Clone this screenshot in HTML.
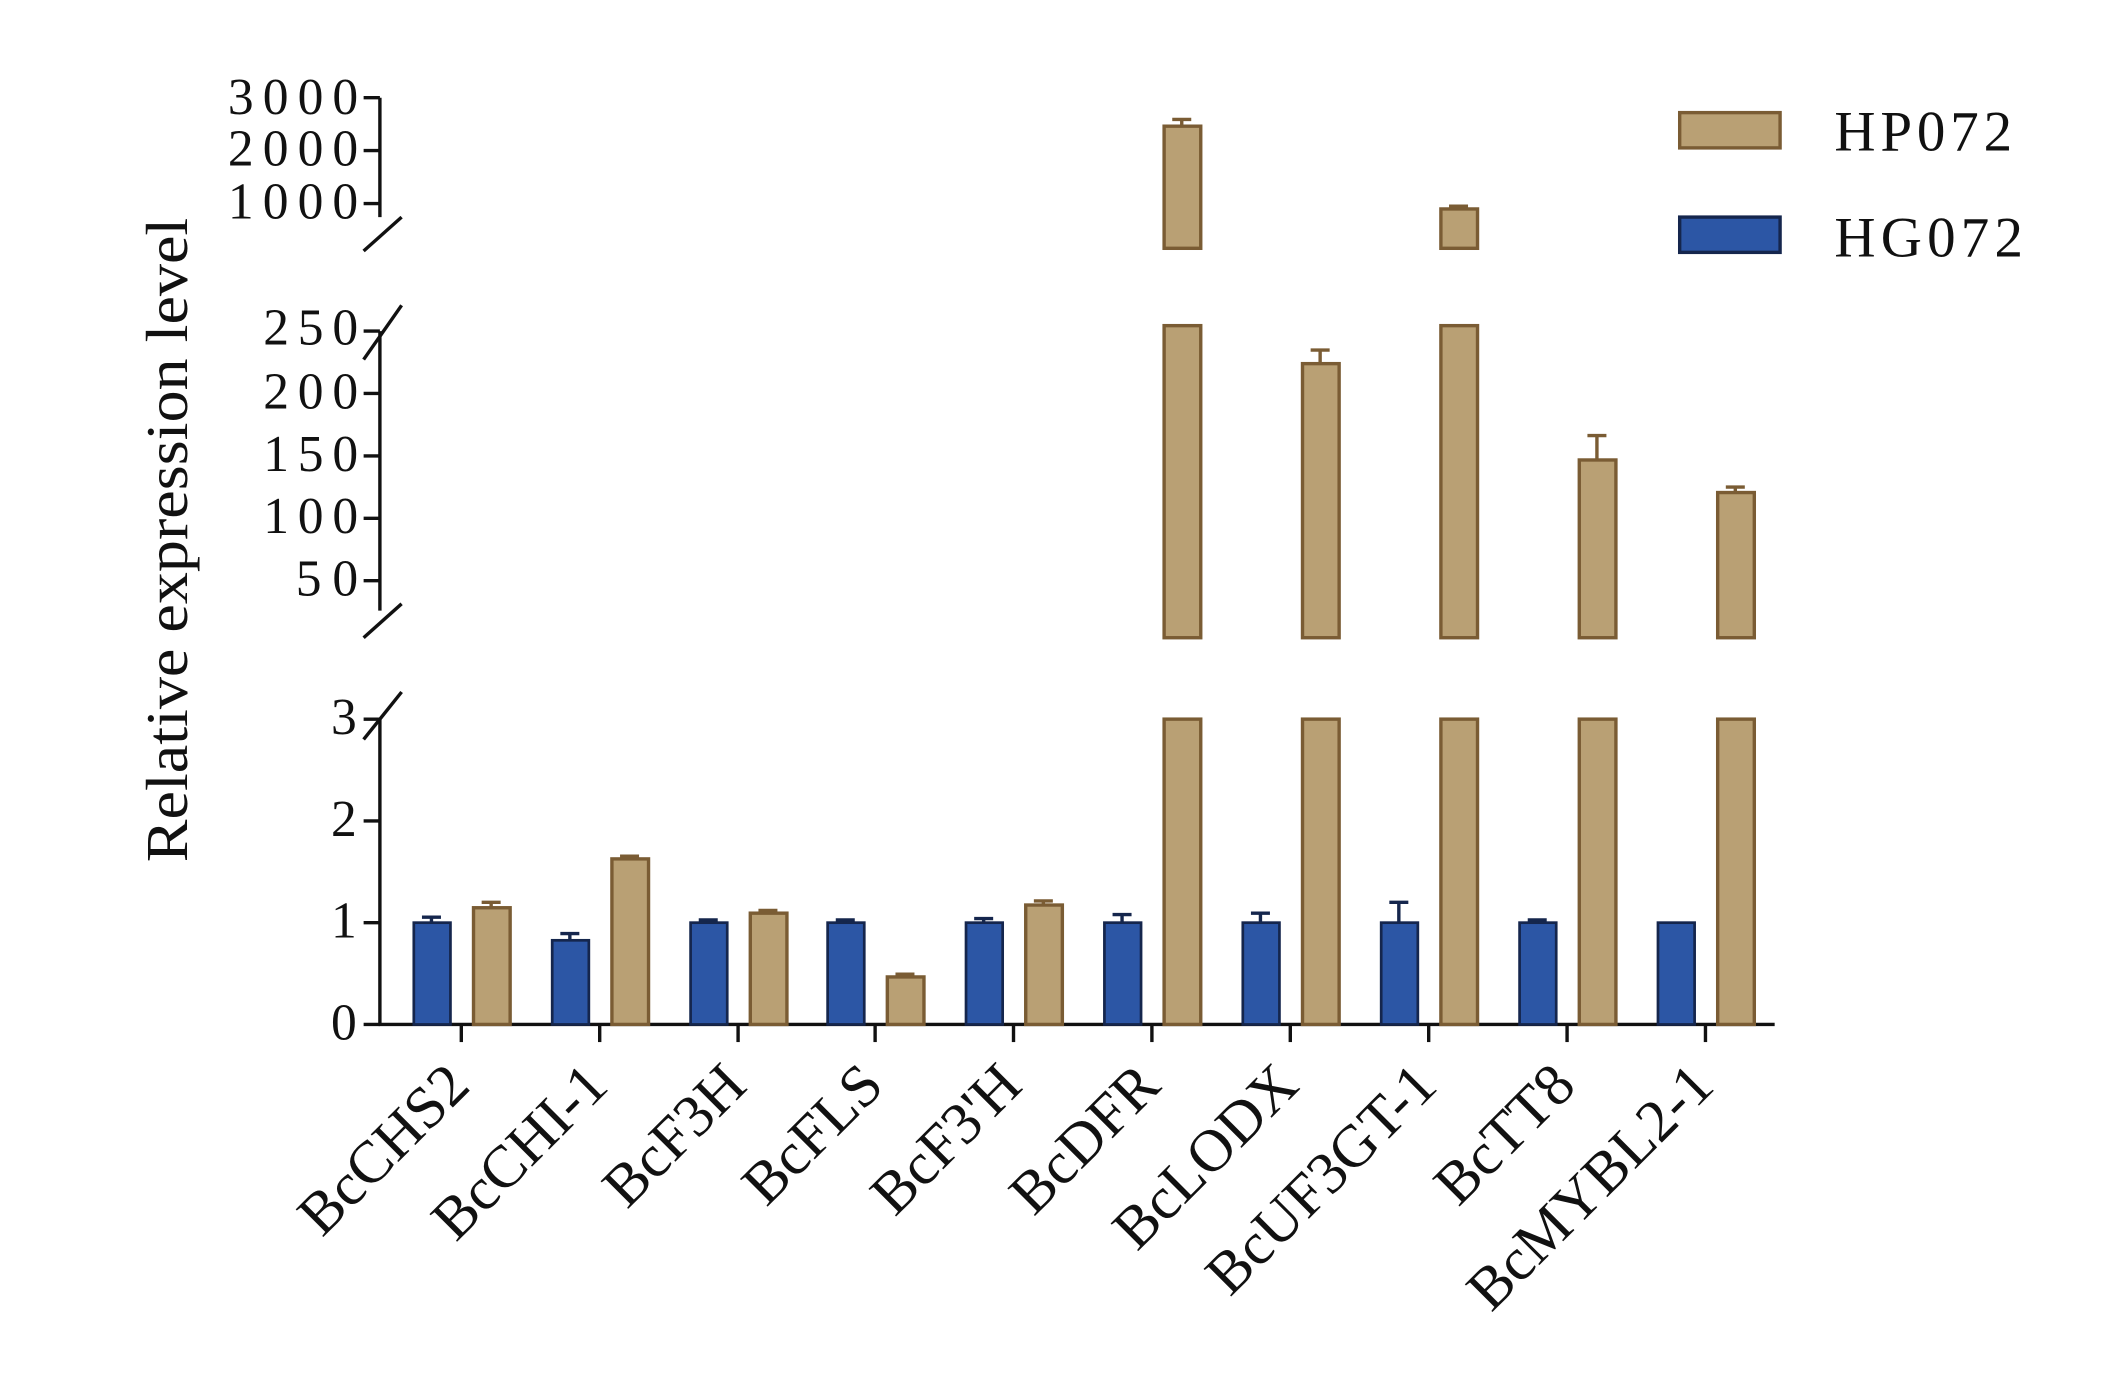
<!DOCTYPE html>
<html><head><style>html,body{margin:0;padding:0;background:#fff}svg{display:block}</style></head><body>
<svg width="2103" height="1384" viewBox="0 0 1550 1020" preserveAspectRatio="none" xmlns="http://www.w3.org/2000/svg" font-family="Liberation Serif, serif">
<g stroke="#111" stroke-width="2.5" fill="none">
<line x1="280" y1="72" x2="280" y2="160"/>
<line x1="280" y1="244" x2="280" y2="450"/>
<line x1="280" y1="530" x2="280" y2="756"/>
<line x1="268" y1="185" x2="296" y2="160"/>
<line x1="268" y1="265" x2="296" y2="225"/>
<line x1="268" y1="470" x2="296" y2="445"/>
<line x1="268" y1="545" x2="296" y2="510"/>
<line x1="279" y1="755" x2="1308" y2="755"/>
<g>
<line x1="268" y1="72" x2="280" y2="72"/><line x1="268" y1="111" x2="280" y2="111"/><line x1="268" y1="150" x2="280" y2="150"/>
<line x1="268" y1="244" x2="280" y2="244"/><line x1="268" y1="290" x2="280" y2="290"/><line x1="268" y1="336" x2="280" y2="336"/><line x1="268" y1="382" x2="280" y2="382"/><line x1="268" y1="428" x2="280" y2="428"/>
<line x1="268" y1="530" x2="280" y2="530"/><line x1="268" y1="605" x2="280" y2="605"/><line x1="268" y1="680" x2="280" y2="680"/><line x1="268" y1="755" x2="280" y2="755"/>
</g>
<g>
<line x1="340" y1="755" x2="340" y2="768"/><line x1="442" y1="755" x2="442" y2="768"/><line x1="544" y1="755" x2="544" y2="768"/><line x1="645" y1="755" x2="645" y2="768"/><line x1="747" y1="755" x2="747" y2="768"/><line x1="849" y1="755" x2="849" y2="768"/><line x1="951" y1="755" x2="951" y2="768"/><line x1="1053" y1="755" x2="1053" y2="768"/><line x1="1155" y1="755" x2="1155" y2="768"/><line x1="1257" y1="755" x2="1257" y2="768"/>
</g>
</g>
<g font-size="38" fill="#111" lengthAdjust="spacingAndGlyphs">
<text x="168" y="84" textLength="96">3000</text><text x="168" y="122" textLength="96">2000</text><text x="168" y="161" textLength="96">1000</text>
<text x="194" y="254" textLength="70">250</text><text x="194" y="301" textLength="70">200</text><text x="194" y="347" textLength="70">150</text><text x="194" y="393" textLength="70">100</text><text x="218" y="439" textLength="46">50</text>
<text x="244" y="541">3</text><text x="244" y="616">2</text><text x="244" y="691">1</text><text x="244" y="766">0</text>
</g>
<text transform="translate(138,398) rotate(-90)" font-size="44" text-anchor="middle" fill="#111" textLength="475" lengthAdjust="spacingAndGlyphs">Relative expression level</text>
<g fill="#2c56a5" stroke="#15264d" stroke-width="2">
<rect x="305" y="680" width="27" height="75"/><rect x="407" y="693" width="27" height="62"/><rect x="509" y="680" width="27" height="75"/><rect x="610" y="680" width="27" height="75"/><rect x="712" y="680" width="27" height="75"/><rect x="814" y="680" width="27" height="75"/><rect x="916" y="680" width="27" height="75"/><rect x="1018" y="680" width="27" height="75"/><rect x="1120" y="680" width="27" height="75"/><rect x="1222" y="680" width="27" height="75"/>
</g>
<g stroke="#15264d" stroke-width="2.5">
<line x1="318" y1="680" x2="318" y2="676"/><line x1="311" y1="676" x2="325" y2="676"/>
<line x1="420" y1="693" x2="420" y2="688"/><line x1="413" y1="688" x2="427" y2="688"/>
<line x1="522" y1="680" x2="522" y2="678"/><line x1="515" y1="678" x2="529" y2="678"/>
<line x1="623" y1="680" x2="623" y2="678"/><line x1="616" y1="678" x2="630" y2="678"/>
<line x1="725" y1="680" x2="725" y2="677"/><line x1="718" y1="677" x2="732" y2="677"/>
<line x1="827" y1="680" x2="827" y2="674"/><line x1="820" y1="674" x2="834" y2="674"/>
<line x1="929" y1="680" x2="929" y2="673"/><line x1="922" y1="673" x2="936" y2="673"/>
<line x1="1031" y1="680" x2="1031" y2="665"/><line x1="1024" y1="665" x2="1038" y2="665"/>
<line x1="1133" y1="680" x2="1133" y2="678"/><line x1="1126" y1="678" x2="1140" y2="678"/>
</g>
<g fill="#b9a074" stroke="#7a5c34" stroke-width="2.5">
<rect x="349" y="669" width="27" height="86"/><rect x="451" y="633" width="27" height="122"/><rect x="553" y="673" width="27" height="82"/><rect x="654" y="720" width="27" height="35"/><rect x="756" y="667" width="27" height="88"/>
<rect x="858" y="530" width="27" height="225"/><rect x="960" y="530" width="27" height="225"/><rect x="1062" y="530" width="27" height="225"/><rect x="1164" y="530" width="27" height="225"/><rect x="1266" y="530" width="27" height="225"/>
<rect x="858" y="240" width="27" height="230"/><rect x="960" y="268" width="27" height="202"/><rect x="1062" y="240" width="27" height="230"/><rect x="1164" y="339" width="27" height="131"/><rect x="1266" y="363" width="27" height="107"/>
<rect x="858" y="93" width="27" height="90"/><rect x="1062" y="154" width="27" height="29"/>
</g>
<g stroke="#7a5c34" stroke-width="2.5">
<line x1="362" y1="669" x2="362" y2="665"/><line x1="355" y1="665" x2="369" y2="665"/>
<line x1="464" y1="633" x2="464" y2="631"/><line x1="457" y1="631" x2="471" y2="631"/>
<line x1="566" y1="673" x2="566" y2="671"/><line x1="559" y1="671" x2="573" y2="671"/>
<line x1="667" y1="720" x2="667" y2="718"/><line x1="660" y1="718" x2="674" y2="718"/>
<line x1="769" y1="667" x2="769" y2="664"/><line x1="762" y1="664" x2="776" y2="664"/>
<line x1="871" y1="93" x2="871" y2="88"/><line x1="864" y1="88" x2="878" y2="88"/>
<line x1="973" y1="268" x2="973" y2="258"/><line x1="966" y1="258" x2="980" y2="258"/>
<line x1="1075" y1="154" x2="1075" y2="152"/><line x1="1068" y1="152" x2="1082" y2="152"/>
<line x1="1177" y1="339" x2="1177" y2="321"/><line x1="1170" y1="321" x2="1184" y2="321"/>
<line x1="1279" y1="363" x2="1279" y2="359"/><line x1="1272" y1="359" x2="1286" y2="359"/>
</g>
<rect x="1238" y="83" width="74" height="26" fill="#b9a074" stroke="#7a5c34" stroke-width="2.5"/>
<rect x="1238" y="160" width="74" height="26" fill="#2c56a5" stroke="#15264d" stroke-width="2.5"/>
<g font-size="42" fill="#111" lengthAdjust="spacingAndGlyphs"><text x="1352" y="111" textLength="131">HP072</text><text x="1352" y="189" textLength="139">HG072</text></g>
<g font-size="44" text-anchor="end" fill="#111">
<text transform="translate(348,802) rotate(-45)">BcCHS2</text>
<text transform="translate(450,802) rotate(-45)">BcCHI-1</text>
<text transform="translate(552,802) rotate(-45)">BcF3H</text>
<text transform="translate(653,802) rotate(-45)">BcFLS</text>
<text transform="translate(755,802) rotate(-45)">BcF3'H</text>
<text transform="translate(857,802) rotate(-45)">BcDFR</text>
<text transform="translate(959,802) rotate(-45)">BcLODX</text>
<text transform="translate(1061,802) rotate(-45)">BcUF3GT-1</text>
<text transform="translate(1163,802) rotate(-45)">BcTT8</text>
<text transform="translate(1265,802) rotate(-45)">BcMYBL2-1</text>
</g>
</svg>
</body></html>
